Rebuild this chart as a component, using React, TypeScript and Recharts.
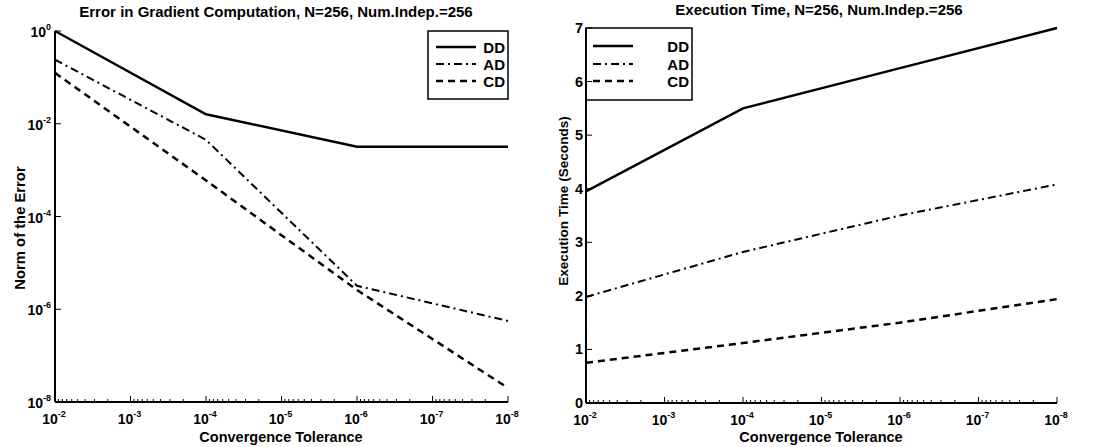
import React from 'react';
import { LineChart, Line, XAxis, YAxis } from 'recharts';

// ---------- data ----------
const tolerances = [1e-2, 1e-4, 1e-6, 1e-8];
const seriesNames = ['DD', 'AD', 'CD'];

const errDD = [1.0, 0.016, 0.0032, 0.0032];
const errAD = [0.24, 0.0045, 3.2e-6, 5.6e-7];
const errCD = [0.125, 6e-4, 2.6e-6, 2e-8];

const timeDD = [3.95, 5.5, 6.25, 7.0];
const timeAD = [1.98, 2.82, 3.5, 4.08];
const timeCD = [0.75, 1.12, 1.5, 1.94];

const xMajorTicks = [1e-2, 1e-3, 1e-4, 1e-5, 1e-6, 1e-7, 1e-8];
const xMinorMultipliers = [2, 3, 4, 5, 6, 7, 8, 9];
const errTicks = [1, 1e-2, 1e-4, 1e-6, 1e-8];
const timeTicks = [0, 1, 2, 3, 4, 5, 6, 7];

const titleLeft = 'Error in Gradient Computation, N=256, Num.Indep.=256';
const titleRight = 'Execution Time, N=256, Num.Indep.=256';
const xLabel = 'Convergence Tolerance';
const yLabelLeft = 'Norm of the Error';
const yLabelRight = 'Execution Time (Seconds)';

// ---------- derived tables ----------
const xMinorTicks: number[] = [];
for (let d = 3; d <= 8; d++) {
  for (const m of xMinorMultipliers) xMinorTicks.push(m * Math.pow(10, -d));
}
const xAllTicks = [...xMajorTicks, ...xMinorTicks];

const errData = tolerances.map((t, i) => ({ tol: t, DD: errDD[i], AD: errAD[i], CD: errCD[i] }));
const timeData = tolerances.map((t, i) => ({ tol: t, DD: timeDD[i], AD: timeAD[i], CD: timeCD[i] }));

const FONT = '"Liberation Sans", Arial, Helvetica, sans-serif';
const dashes: Record<string, string | undefined> = { DD: undefined, AD: '8 4 2 4', CD: '7 5' };
const widths: Record<string, number> = { DD: 2.4, AD: 2.0, CD: 2.5 };

const isMajor = (v: number) => Math.abs(Math.log10(v) - Math.round(Math.log10(v))) < 1e-6;
const expOf = (v: number) => String(Math.round(Math.log10(v)));

const PowerText = ({ x, y, v, anchor }: { x: number; y: number; v: number; anchor: 'middle' | 'end' }) => (
  <text x={x} y={y} textAnchor={anchor} fontFamily={FONT} fontWeight="bold" fontSize={14} fill="#000">
    <tspan>10</tspan>
    <tspan dy={-7} fontSize={9}>{expOf(v)}</tspan>
  </text>
);

const BottomLogTick = (props: any) => {
  const { x, y, payload } = props;
  const v = payload.value;
  const major = isMajor(v);
  return (
    <g>
      <line x1={x} x2={x} y1={y} y2={y - (major ? 6 : 3)} stroke="#000" strokeWidth={1} />
      {major && <PowerText x={x - 1} y={y + 22} v={v} anchor="middle" />}
    </g>
  );
};

const TopLogTick = (props: any) => {
  const { x, y, payload } = props;
  const major = isMajor(payload.value);
  return <line x1={x} x2={x} y1={y} y2={y + (major ? 6 : 3)} stroke="#000" strokeWidth={1} />;
};

const LeftLogTick = (props: any) => {
  const { x, y, payload } = props;
  return (
    <g>
      <line x1={x} x2={x + 6} y1={y} y2={y} stroke="#000" strokeWidth={1} />
      <PowerText x={x - 4} y={y + 6} v={payload.value} anchor="end" />
    </g>
  );
};

const LeftLinTick = (props: any) => {
  const { x, y, payload } = props;
  return (
    <g>
      <line x1={x} x2={x + 6} y1={y} y2={y} stroke="#000" strokeWidth={1} />
      <text x={x - 3} y={y + 5} textAnchor="end" fontFamily={FONT} fontWeight="bold" fontSize={14.5} fill="#000">
        {payload.value}
      </text>
    </g>
  );
};

const RightTick = (props: any) => {
  const { x, y } = props;
  return <line x1={x} x2={x - 6} y1={y} y2={y} stroke="#000" strokeWidth={1} />;
};

const LegendBox = ({ x, y, w, h, lineX1, lineX2, textX, rows }: any) => (
  <g>
    <rect x={x} y={y} width={w} height={h} fill="#fff" stroke="#000" strokeWidth={1.5} />
    {seriesNames.map((name, i) => (
      <g key={name}>
        <line
          x1={lineX1}
          x2={lineX2}
          y1={rows[i]}
          y2={rows[i]}
          stroke="#000"
          strokeWidth={widths[name]}
          strokeDasharray={dashes[name]}
        />
        <text x={textX} y={rows[i] + 5.5} textAnchor="end" fontFamily={FONT} fontWeight="bold" fontSize={15} fill="#000">
          {name}
        </text>
      </g>
    ))}
  </g>
);

const axisLine = { stroke: '#000', strokeWidth: 1.5 };
const textStyle = { fontFamily: FONT, fontWeight: 'bold' as const, fill: '#000' };

export default function App() {
  return (
    <div style={{ position: 'absolute', left: 0, top: 0, width: 1094, height: 447, background: '#fff' }}>
      <div style={{ position: 'absolute', left: 0, top: 0 }}>
        <LineChart width={545} height={447} data={errData} margin={{ top: 31, right: 37, bottom: 0, left: 0 }}>
          <XAxis
            dataKey="tol"
            type="number"
            scale="log"
            domain={[1e-8, 1e-2]}
            reversed
            ticks={xAllTicks}
            interval={0}
            tickSize={0}
            tickMargin={0}
            tickLine={false}
            tick={<BottomLogTick />}
            axisLine={{ stroke: '#000', strokeWidth: 2 }}
            height={45}
          />
          <XAxis
            xAxisId="top"
            orientation="top"
            type="number"
            scale="log"
            domain={[1e-8, 1e-2]}
            reversed
            ticks={xAllTicks}
            interval={0}
            tickSize={0}
            tickMargin={0}
            tickLine={false}
            tick={<TopLogTick />}
            axisLine={axisLine}
            height={0}
          />
          <YAxis
            type="number"
            scale="log"
            domain={[1e-8, 1]}
            ticks={errTicks}
            interval={0}
            tickSize={0}
            tickMargin={0}
            tickLine={false}
            tick={<LeftLogTick />}
            axisLine={{ stroke: '#000', strokeWidth: 2 }}
            width={55}
          />
          <YAxis
            yAxisId="right"
            orientation="right"
            type="number"
            scale="log"
            domain={[1e-8, 1]}
            ticks={errTicks}
            interval={0}
            tickSize={0}
            tickMargin={0}
            tickLine={false}
            tick={<RightTick />}
            axisLine={axisLine}
            width={0}
          />
          {seriesNames.map((name) => (
            <Line
              key={name}
              dataKey={name}
              type="linear"
              stroke="#000"
              strokeWidth={widths[name]}
              strokeDasharray={dashes[name]}
              dot={false}
              isAnimationActive={false}
            />
          ))}
          <LegendBox x={428} y={31} w={80} h={68} lineX1={436} lineX2={476} textX={505} rows={[47, 64, 81]} />
          <text x={276} y={17} textAnchor="middle" fontSize={15} {...textStyle}>{titleLeft}</text>
          <text x={281} y={442} textAnchor="middle" fontSize={14.5} {...textStyle}>{xLabel}</text>
          <text x={20} y={228} textAnchor="middle" fontSize={14.8} transform="rotate(-90 20 228)" dominantBaseline="central" {...textStyle}>{yLabelLeft}</text>
        </LineChart>
      </div>
      <div style={{ position: 'absolute', left: 545, top: 0 }}>
        <LineChart width={549} height={447} data={timeData} margin={{ top: 28, right: 37, bottom: 0, left: 0 }}>
          <XAxis
            dataKey="tol"
            type="number"
            scale="log"
            domain={[1e-8, 1e-2]}
            reversed
            ticks={xAllTicks}
            interval={0}
            tickSize={0}
            tickMargin={0}
            tickLine={false}
            tick={<BottomLogTick />}
            axisLine={{ stroke: '#000', strokeWidth: 2 }}
            height={44}
          />
          <XAxis
            xAxisId="top"
            orientation="top"
            type="number"
            scale="log"
            domain={[1e-8, 1e-2]}
            reversed
            ticks={xAllTicks}
            interval={0}
            tickSize={0}
            tickMargin={0}
            tickLine={false}
            tick={<TopLogTick />}
            axisLine={axisLine}
            height={0}
          />
          <YAxis
            type="number"
            domain={[0, 7]}
            ticks={timeTicks}
            interval={0}
            tickSize={0}
            tickMargin={0}
            tickLine={false}
            tick={<LeftLinTick />}
            axisLine={{ stroke: '#000', strokeWidth: 2 }}
            width={41}
          />
          <YAxis
            yAxisId="right"
            orientation="right"
            type="number"
            domain={[0, 7]}
            ticks={timeTicks}
            interval={0}
            tickSize={0}
            tickMargin={0}
            tickLine={false}
            tick={<RightTick />}
            axisLine={axisLine}
            width={0}
          />
          {seriesNames.map((name) => (
            <Line
              key={name}
              dataKey={name}
              type="linear"
              stroke="#000"
              strokeWidth={widths[name]}
              strokeDasharray={dashes[name]}
              dot={false}
              isAnimationActive={false}
            />
          ))}
          <LegendBox x={41} y={28} w={106} h={72} lineX1={48} lineX2={88} textX={144} rows={[46, 64, 81]} />
          <text x={274} y={15} textAnchor="middle" fontSize={15} {...textStyle}>{titleRight}</text>
          <text x={276} y={442} textAnchor="middle" fontSize={14.5} {...textStyle}>{xLabel}</text>
          <text x={18} y={201} textAnchor="middle" fontSize={13.6} transform="rotate(-90 18 201)" dominantBaseline="central" {...textStyle}>{yLabelRight}</text>
        </LineChart>
      </div>
    </div>
  );
}
